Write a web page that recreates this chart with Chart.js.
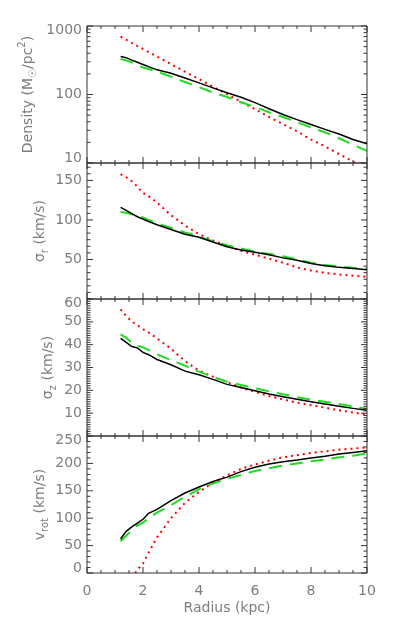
<!DOCTYPE html>
<html lang="en">
<head>
<meta charset="UTF-8">
<title>Radial profiles</title>
<script src="https://cdn.jsdelivr.net/npm/chart.js"></script>
<style>
  body { margin: 0; background: #fff; }
  #wrap { position: relative; width: 393px; height: 629px; }
  #wrap canvas { position: absolute; left: 0; top: 0; }
</style>
</head>
<body>
<div id="wrap">
  <canvas id="pDensity" width="393" height="629"></canvas>
  <canvas id="pSigmaR" width="393" height="629"></canvas>
  <canvas id="pSigmaZ" width="393" height="629"></canvas>
  <canvas id="pVrot" width="393" height="629"></canvas>
</div>
<script>
// radius in kpc
const radius = [1.2, 1.4, 1.6, 1.8, 2.0, 2.2, 2.5, 3.0, 3.5, 4.0, 4.5, 5.0, 5.5, 6.0, 6.5, 7.0, 7.5, 8.0, 8.5, 9.0, 9.5, 10.0];

// surface density (Msun/pc^2)
const densitySolid  = [358, 345, 318, 295, 274, 255, 229, 204, 174, 148, 125, 106, 91, 76, 62, 51, 43, 36.5, 31, 26.5, 22, 19];
const densityDashed = [330, 315, 295, 268, 248, 236, 216, 182, 152, 128, 107, 92, 77, 66, 55, 47, 39.5, 33, 28, 23, 18.5, 15];
const densityDotted = [700, 630, 565, 510, 462, 415, 358, 278, 215, 168, 130, 101, 78, 61, 47, 37, 29, 22, 17.5, 13.5, 10.5, 8.2];

// sigma_r (km/s)
const sigmaRSolid  = [116, 112, 108, 104, 101, 98, 94, 88, 82, 78, 72, 66, 62, 59, 56, 52, 49, 45, 42, 40, 38.5, 37];
const sigmaRDashed = [110, 109, 107, 105, 103, 100, 96, 90, 84, 79, 73, 68, 64, 60, 57, 54, 50, 46, 43, 41, 39.5, 38.5];
const sigmaRDotted = [158, 154, 149, 142, 134, 130, 122, 106, 93, 82, 74, 67, 61, 56, 51, 46, 40, 36, 33, 31, 29.5, 28];

// sigma_z (km/s)
const sigmaZSolid  = [42.8, 41, 39.2, 38.6, 36.6, 35.6, 33.5, 31.2, 28.4, 26.8, 24.8, 22.6, 21.2, 19.8, 18.4, 17.2, 16.1, 15, 14, 13, 12.1, 11.3];
const sigmaZDashed = [44.5, 43, 40.8, 39.6, 38.8, 37.6, 35.8, 33.2, 30.8, 28.2, 25.8, 23.8, 22.3, 20.9, 19.6, 18.3, 17, 15.9, 15, 14, 12.9, 11.9];
const sigmaZDotted = [55.5, 52.5, 50.2, 48.5, 46.8, 45.3, 42.8, 38.2, 32.8, 28.6, 26, 23.7, 21.2, 19.4, 17.5, 16, 14.6, 13.5, 12.4, 11.3, 10.3, 9.3];

// v_rot (km/s)
const vrotSolid  = [62, 76, 84, 91, 98, 109, 116, 132, 146, 157, 167, 175, 185, 193, 199, 203, 206, 210, 213, 217, 220, 223];
const vrotDashed = [58, 68, 78, 87, 92, 100, 110, 124, 139, 153, 163, 172, 179, 186, 191, 196, 200, 204, 207, 211, 214, 218];
const vrotDotted = [-60, -30, -10, 6, 17, 37, 65, 100, 128, 148, 165, 178, 190, 198, 205, 211, 215, 219, 222, 225, 227, 229];

// tick labels
const radiusTicks  = [0, 2, 4, 6, 8, 10];
const densityTicks = [10, 100, 1000];
const sigmaRTicks  = [50, 100, 150];
const sigmaZTicks  = [10, 20, 30, 40, 50, 60];
const vrotTicks    = [0, 50, 100, 150, 200, 250];

Chart.defaults.font.family = "'DejaVu Sans', sans-serif";
Chart.defaults.font.size = 14;
Chart.defaults.color = '#7d7d7d';

const W = 393, H = 629, LEFT = 87, RIGHT = 367;

function near(list, v) {
    return list.some(t => Math.abs(t - v) < 1e-6 * Math.max(1, Math.abs(t)));
}

// IDL style box: frame, inward ticks on all sides, y title with sub/superscripts
const idlBox = {
    id: 'idlBox',
    afterDatasetsDraw(chart, args, o) {
        const ctx = chart.ctx;
        const a = chart.chartArea;
        const xs = chart.scales.x, ys = chart.scales.y;
        ctx.save();
        ctx.strokeStyle = '#333';
        ctx.lineWidth = 1;
        ctx.beginPath();
        ctx.rect(a.left, a.top, a.right - a.left, a.bottom - a.top);

        const nx = Math.round((xs.max - xs.min) / o.xMinor);
        for (let i = 0; i <= nx; i++) {
            const v = xs.min + i * o.xMinor;
            const px = xs.getPixelForValue(v);
            const len = near(radiusTicks, v) ? 6 : 3;
            ctx.moveTo(px, a.bottom); ctx.lineTo(px, a.bottom - len);
            ctx.moveTo(px, a.top); ctx.lineTo(px, a.top + len);
        }

        let yv = [];
        if (o.log) {
            for (let d = ys.min; d < ys.max * 0.999; d *= 10) {
                for (let k = 1; k <= 9; k++) yv.push(k * d);
            }
            yv.push(ys.max);
        } else {
            const ny = Math.round((ys.max - ys.min) / o.yMinor);
            for (let i = 0; i <= ny; i++) yv.push(ys.min + i * o.yMinor);
        }
        yv.forEach(v => {
            if (v < ys.min || v > ys.max) return;
            const py = ys.getPixelForValue(v);
            const len = near(o.major, v) ? 6 : 3.5;
            ctx.moveTo(a.left, py); ctx.lineTo(a.left + len, py);
            ctx.moveTo(a.right, py); ctx.lineTo(a.right - len, py);
        });
        ctx.stroke();

        // rotated y title
        ctx.translate(o.titleX, (a.top + a.bottom) / 2);
        ctx.rotate(-Math.PI / 2);
        ctx.fillStyle = '#7d7d7d';
        ctx.textBaseline = 'middle';
        const big = "14px 'DejaVu Sans'", small = "10px 'DejaVu Sans'";
        let total = 0;
        o.title.forEach(([t, k]) => { ctx.font = k ? small : big; total += ctx.measureText(t).width; });
        let x = -total / 2;
        o.title.forEach(([t, k]) => {
            ctx.font = k ? small : big;
            ctx.fillText(t, x, k > 0 ? 5 : (k < 0 ? -6 : 0));
            x += ctx.measureText(t).width;
        });
        ctx.restore();
    }
};

function series(vals) {
    return radius.map((r, i) => ({ x: r, y: vals[i] }));
}

// labels sitting on the frame edges are nudged inwards, as IDL does
function edgeLabel(v) {
    const s = String(v);
    if (v === this.max) return ['', s];
    if (v === this.min) return [s, ''];
    return s;
}

function makePanel(id, cfg) {
    const last = !!cfg.showX;
    return new Chart(document.getElementById(id), {
        type: 'line',
        data: {
            datasets: [
                { data: series(cfg.solid), borderColor: '#000', borderWidth: 1.5 },
                { data: series(cfg.dashed), borderColor: '#1fdc1f', borderWidth: 2, borderDash: [13, 8] },
                { data: series(cfg.dotted), borderColor: '#ff0000', borderWidth: 2, borderDash: [2, 4] }
            ]
        },
        options: {
            responsive: false,
            animation: false,
            events: [],
            elements: { point: { radius: 0 }, line: { tension: 0 } },
            layout: { padding: { top: cfg.top, bottom: last ? 0 : H - cfg.bottom, left: 0, right: W - RIGHT } },
            plugins: {
                legend: { display: false },
                tooltip: { enabled: false },
                idlBox: { xMinor: 0.5, yMinor: cfg.yMinor, log: cfg.log, major: cfg.ticks, title: cfg.title, titleX: cfg.titleX }
            },
            scales: {
                x: {
                    type: 'linear', min: 0, max: 10, display: last,
                    afterBuildTicks: s => { s.ticks = radiusTicks.map(v => ({ value: v })); },
                    grid: { display: false, drawTicks: false },
                    border: { display: false },
                    ticks: { padding: 10, maxRotation: 0, autoSkip: false, callback: v => String(v) },
                    title: { display: last, text: 'Radius (kpc)', padding: { top: 0, bottom: 12 } },
                    afterFit: s => { if (last) s.height = H - cfg.bottom; }
                },
                y: {
                    type: cfg.log ? 'logarithmic' : 'linear',
                    min: cfg.min, max: cfg.max,
                    afterBuildTicks: s => { s.ticks = cfg.ticks.map(v => ({ value: v })); },
                    grid: { display: false, drawTicks: false },
                    border: { display: false },
                    ticks: { padding: 5, autoSkip: false, font: { lineHeight: 0.65 }, callback: edgeLabel },
                    afterFit: s => { s.width = LEFT; }
                }
            }
        },
        plugins: [idlBox]
    });
}

makePanel('pDensity', {
    top: 26, bottom: 163, log: true, min: 10, max: 1000, ticks: densityTicks,
    solid: densitySolid, dashed: densityDashed, dotted: densityDotted,
    title: [['Density (M', 0], ['☉', 1], ['/pc', 0], ['2', -1], [')', 0]], titleX: 28
});
makePanel('pSigmaR', {
    top: 163, bottom: 299, min: 0, max: 172, yMinor: 50 / 6, ticks: sigmaRTicks,
    solid: sigmaRSolid, dashed: sigmaRDashed, dotted: sigmaRDotted,
    title: [['σ', 0], ['r', 1], [' (km/s)', 0]], titleX: 40
});
makePanel('pSigmaZ', {
    top: 299, bottom: 436, min: 0, max: 60, yMinor: 1, ticks: sigmaZTicks,
    solid: sigmaZSolid, dashed: sigmaZDashed, dotted: sigmaZDotted,
    title: [['σ', 0], ['z', 1], [' (km/s)', 0]], titleX: 48
});
makePanel('pVrot', {
    top: 436, bottom: 573, min: 0, max: 250, yMinor: 10, ticks: vrotTicks, showX: true,
    solid: vrotSolid, dashed: vrotDashed, dotted: vrotDotted,
    title: [['v', 0], ['rot', 1], [' (km/s)', 0]], titleX: 40
});
</script>
</body>
</html>
